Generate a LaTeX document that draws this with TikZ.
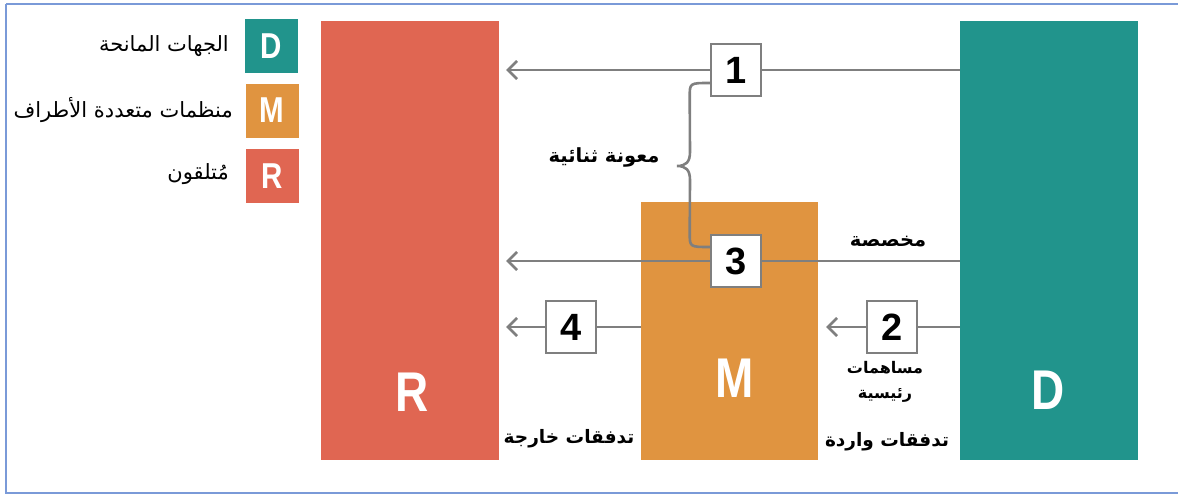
\documentclass[tikz,border=0pt]{standalone}
\usepackage{fontspec}
\setmainfont{Liberation Sans}
\newfontfamily\arabicfont[Script=Arabic]{DejaVu Sans}
\newfontfamily\narrowfont[FakeStretch=0.82]{Liberation Sans}
\TeXXeTstate=1
\usetikzlibrary{arrows.meta,calc}
\definecolor{dcol}{HTML}{21948C}
\definecolor{mcol}{HTML}{E09440}
\definecolor{rcol}{HTML}{E06652}
\definecolor{lgray}{HTML}{7F7F7F}
\definecolor{framecol}{HTML}{7A9AD8}
\tikzset{
  bigblock/.style={rectangle, inner sep=0pt, draw=none},
  bigletter/.style={text=white, font=\narrowfont\bfseries\fontsize{56}{56}\selectfont, inner sep=0pt},
  legbox/.style={rectangle, inner sep=0pt, minimum width=53pt, minimum height=54pt, text=white, font=\narrowfont\bfseries\fontsize{36}{36}\selectfont},
  legtext/.style={anchor=east, inner sep=0pt, font=\arabicfont\fontsize{21}{21}\selectfont},
  numbox/.style={rectangle, draw=lgray, line width=2.6pt, fill=white, minimum width=50pt, minimum height=52pt, inner sep=0pt, font=\bfseries\fontsize{38}{38}\selectfont},
  flow/.style={draw=lgray, line width=2.6pt},
  flowarrow/.style={flow, -{Straight Barb[length=9pt,width=18pt]}},
  lbl/.style={inner sep=0pt, font=\arabicfont\bfseries\fontsize{19.5}{19.5}\selectfont},
  lblsmall/.style={inner sep=0pt, font=\arabicfont\bfseries\fontsize{18.5}{18.5}\selectfont},
}
\begin{document}
\begin{tikzpicture}[x=1pt,y=-1pt]
\useasboundingbox (0,0) rectangle (1178,495);
\draw[framecol, line width=1.2pt] (6,4) -- (1178,4);
\draw[framecol, line width=1.2pt] (6,4) -- (6,493) -- (1178,493);
% big blocks
\node[bigblock, fill=rcol, minimum width=178pt, minimum height=439pt] (R) at (410,240.5) {};
\node[bigblock, fill=dcol, minimum width=178pt, minimum height=439pt] (D) at (1049,240.5) {};
\node[bigblock, fill=mcol, minimum width=177pt, minimum height=258pt] (M) at (729.5,331) {};
\node[bigletter] (Rl) at (412,392) {R};
\node[bigletter] (Ml) at (735,378) {M};
\node[bigletter] (Dl) at (1048,390) {D};
% legend
\node[legbox, fill=dcol] (LD) at (271.5,46) {D};
\node[legbox, fill=mcol] (LM) at (272,110.5) {M};
\node[legbox, fill=rcol] (LR) at (272,176) {R};
\node[legtext] (tD) at (229,46) {\beginR الجهات المانحة\endR};
\node[legtext] (tM) at (233,110) {\beginR منظمات متعددة الأطراف\endR};
\node[legtext] (tR) at (229,174) {\beginR مُتلقون\endR};
% numbered boxes
\node[numbox] (b1) at (736,70) {1};
\node[numbox] (b3) at (736,261) {3};
\node[numbox] (b4) at (571,327) {4};
\node[numbox] (b2) at (892,327) {2};
% flows
\draw[flow] (D.west |- b1) -- (b1.east);
\draw[flowarrow, shorten >=7pt] (b1.west) -- (R.east |- b1);
\draw[flow] (D.west |- b3) -- (b3.east);
\draw[flowarrow, shorten >=7pt] (b3.west) -- (R.east |- b3);
\draw[flow] (M.west |- b4) -- (b4.east);
\draw[flowarrow, shorten >=7pt] (b4.west) -- (R.east |- b4);
\draw[flow] (D.west |- b2) -- (b2.east);
\draw[flowarrow, shorten >=8pt] (b2.west) -- (M.east |- b2);
\node[numbox] at (b1) {1};
\node[numbox] at (b3) {3};
% brace
\coordinate (bt) at ($(b1.west)+(0,13)$);
\coordinate (bb) at ($(b3.west)+(0,-14)$);
\draw[flow, line cap=round] (bt) .. controls ($(bt)+(-20,0)$) and ($(bt)+(-20,0)$) .. ($(bt)+(-20,14)$)
  -- (690,152) .. controls (690,162) and (686,166) .. (677,166)
  .. controls (686,166) and (690,170) .. (690,180)
  -- ($(bb)+(-20,-14)$) .. controls ($(bb)+(-20,0)$) and ($(bb)+(-20,0)$) .. (bb);
% labels
\node[lbl] (l1) at (604,157) {\beginR معونة ثنائية\endR};
\node[lbl] (l2) at (888,242) {\beginR مخصصة\endR};
\node[lbl, align=center, font=\arabicfont\bfseries\fontsize{16}{25}\selectfont] (l3) at (885,382) {\beginR مساهمات\endR\\\beginR رئيسية\endR};
\node[lblsmall] (l4) at (887,442) {\beginR تدفقات واردة\endR};
\node[lblsmall] (l5) at (569,439) {\beginR تدفقات خارجة\endR};
\end{tikzpicture}
\end{document}
